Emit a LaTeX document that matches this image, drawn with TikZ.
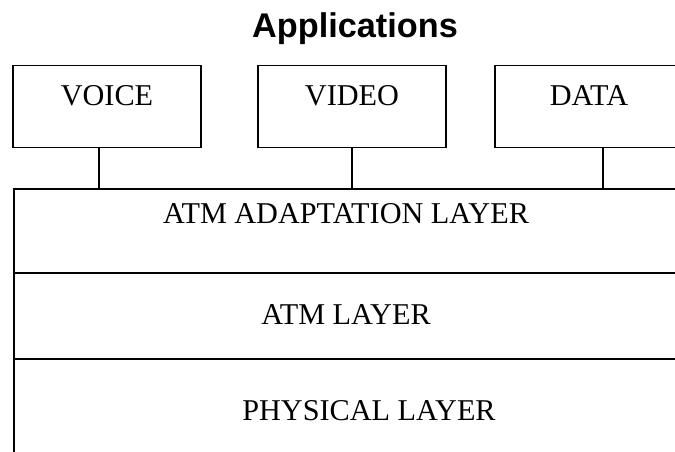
\documentclass[tikz,border=0pt]{standalone}
\usepackage{fontspec}
\setmainfont{Liberation Serif}
\newfontfamily\headfont{Liberation Sans}
\usepackage{tikz}
\usetikzlibrary{positioning}

\begin{document}
\begin{tikzpicture}[
    appbox/.style={draw, rectangle, line width=1.1pt, inner sep=0pt, outer sep=0pt, minimum width=3.76cm, text height=0.8cm, text depth=0.84cm, font=\fontsize{17.2}{19}\selectfont},
    layer/.style={draw, rectangle, line width=1.1pt, inner sep=0pt, outer sep=0pt, minimum width=13.28cm, font=\fontsize{17.2}{19}\selectfont},
    link/.style={line width=1.1pt}
]
\useasboundingbox (0,0) rectangle (13.5,-9.04);
\node (title) [anchor=base, font=\headfont\bfseries\fontsize{19.5}{22}\selectfont] at (7.1,-0.76) {Applications};
\node (voice) [appbox, anchor=north west] at (0.26,-1.31) {VOICE};
\node (video) [appbox, right=1.14cm of voice] {VIDEO};
\node (data) [appbox, right=0.98cm of video] {DATA};
\node (aal) [layer, anchor=north west, text height=0.7cm, text depth=0.98cm] at (0.28,-3.78) {ATM ADAPTATION LAYER};
\node (atm) [layer, below=0pt of aal, text height=1.04cm, text depth=0.68cm] {ATM LAYER};
\node (phy) [layer, below=0pt of atm, text height=1.24cm, text depth=1.0cm] {\hspace*{0.92cm}PHYSICAL LAYER};
\draw[link] ([xshift=-0.16cm]voice.south) -- ([xshift=-0.16cm]voice.south |- aal.north);
\draw[link] (video.south) -- (video.south |- aal.north);
\draw[link] ([xshift=0.28cm]data.south) -- ([xshift=0.28cm]data.south |- aal.north);
\end{tikzpicture}
\end{document}
